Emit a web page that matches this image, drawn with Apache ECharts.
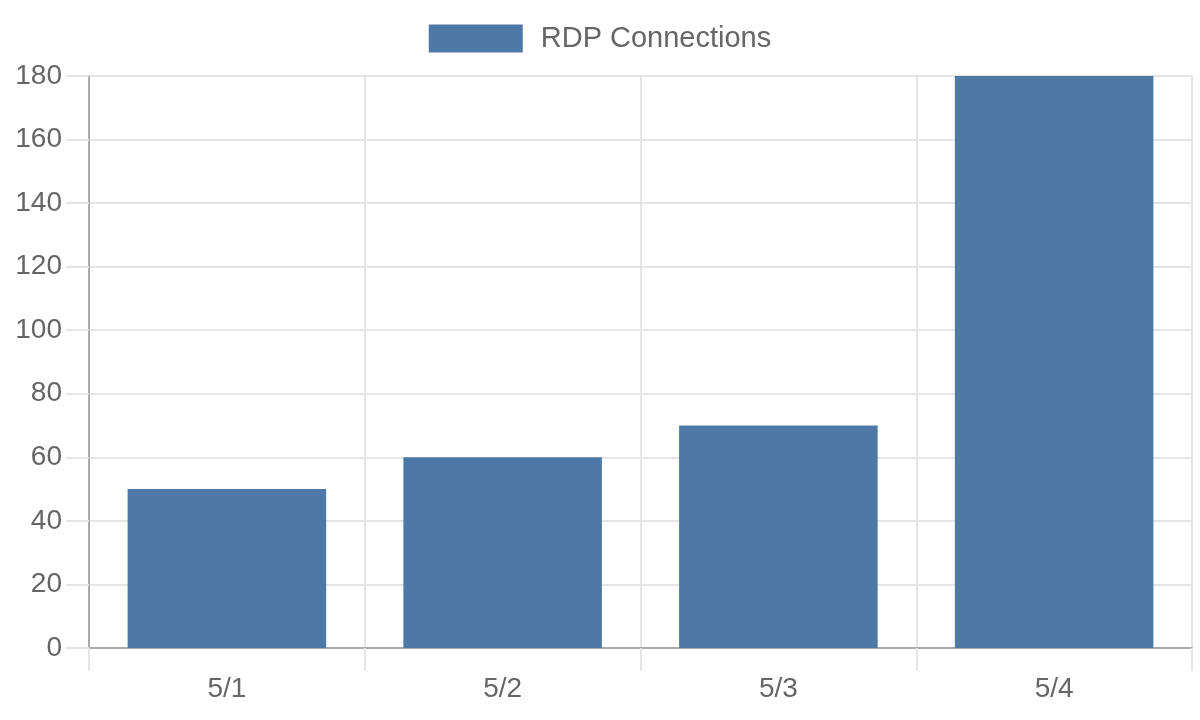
<!DOCTYPE html>
<html>
<head>
	<meta charset="utf-8" />
	<script src="https://cdn.jsdelivr.net/npm/echarts@6/dist/echarts.min.js"></script>
	<title>RDP Connections</title>
</head>
<body style="margin: 0; background-color: #ffffff">
	<div id="main" style="width: 1200px; height: 720px;"></div>
<script type="text/javascript">
	var days = ['5/1', '5/2', '5/3', '5/4'];
	var rdpConnections = [50, 60, 70, 180];
	var yTicks = { min: 0, max: 180, interval: 20 };

	var textColor = '#666666';
	var gridColor = '#e5e5e5';
	var axisColor = '#aaaaaa';
	var font = '"Liberation Sans", Arial, sans-serif';

	var myChart = echarts.init(document.getElementById('main'));

	var option = {
		backgroundColor: '#ffffff',
		animation: false,
		legend: {
			top: 19,
			left: 'center',
			itemWidth: 94,
			itemHeight: 28,
			icon: 'rect',
			textStyle: {
				color: textColor,
				fontSize: 29,
				fontFamily: font,
				padding: [0, 0, 0, 13]
			},
			data: ['RDP Connections']
		},
		grid: {
			left: 89,
			right: 8,
			top: 76,
			bottom: 72,
			containLabel: false
		},
		xAxis: {
			type: 'category',
			data: days,
			boundaryGap: true,
			axisLine: { lineStyle: { color: axisColor, width: 2 } },
			axisTick: { show: true, length: 23, lineStyle: { color: gridColor, width: 2 } },
			splitLine: { show: true, lineStyle: { color: gridColor, width: 2 } },
			axisLabel: {
				color: textColor,
				fontSize: 28,
				fontFamily: font,
				margin: 27
			}
		},
		yAxis: {
			type: 'value',
			min: yTicks.min,
			max: yTicks.max,
			interval: yTicks.interval,
			axisLine: { show: true, lineStyle: { color: axisColor, width: 2 } },
			axisTick: { show: true, length: 23, lineStyle: { color: gridColor, width: 2 } },
			splitLine: { show: true, lineStyle: { color: gridColor, width: 2 } },
			axisLabel: {
				color: textColor,
				fontSize: 28,
				fontFamily: font,
				margin: 27
			}
		},
		series: [{
			name: 'RDP Connections',
			type: 'bar',
			data: rdpConnections,
			barCategoryGap: '28%',
			itemStyle: { color: '#4e79a7' }
		}]
	};

	myChart.setOption(option);
</script>
</body>
</html>
